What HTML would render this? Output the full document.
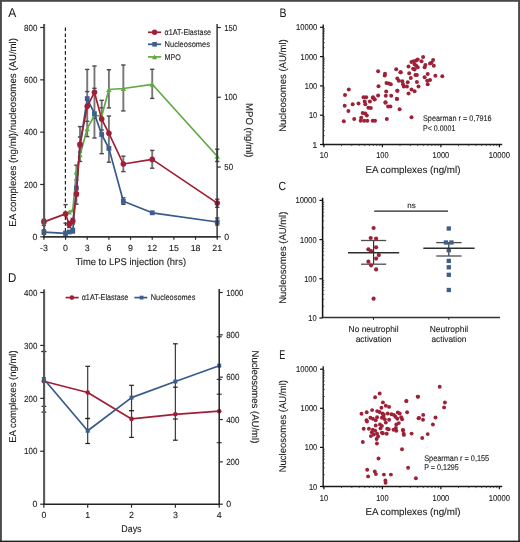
<!DOCTYPE html>
<html><head><meta charset="utf-8"><style>
html,body{margin:0;padding:0;background:#fff;overflow:hidden;width:520px;height:542px;}
svg{display:block;will-change:transform;}
text{font-family:'Liberation Sans',sans-serif;text-rendering:geometricPrecision;}
</style></head><body>
<svg width="520" height="542" viewBox="0 0 520 542">
<rect x="0" y="0" width="520" height="542" fill="#ffffff"/>
<text x="8.30" y="16.60" font-size="12.8" text-anchor="start" fill="#1a1a1a" stroke="#1a1a1a" stroke-width="0.05" textLength="8.0" lengthAdjust="spacingAndGlyphs" >A</text>
<text x="279.60" y="16.60" font-size="12.3" text-anchor="start" fill="#1a1a1a" stroke="#1a1a1a" stroke-width="0.05" textLength="7.0" lengthAdjust="spacingAndGlyphs" >B</text>
<text x="278.40" y="190.00" font-size="11.8" text-anchor="start" fill="#1a1a1a" stroke="#1a1a1a" stroke-width="0.05" textLength="7.6" lengthAdjust="spacingAndGlyphs" >C</text>
<text x="8.00" y="281.80" font-size="12.7" text-anchor="start" fill="#1a1a1a" stroke="#1a1a1a" stroke-width="0.05" textLength="8.3" lengthAdjust="spacingAndGlyphs" >D</text>
<text x="279.30" y="358.50" font-size="12.8" text-anchor="start" fill="#1a1a1a" stroke="#1a1a1a" stroke-width="0.05" textLength="6.0" lengthAdjust="spacingAndGlyphs" >E</text>
<line x1="65.40" y1="27.50" x2="65.40" y2="236.80" stroke="#222" stroke-width="1.2" stroke-dasharray="3.6 2.3"/>
<line x1="43.90" y1="219.30" x2="43.90" y2="225.40" stroke="#767676" stroke-width="1.9" />
<line x1="43.90" y1="230.00" x2="43.90" y2="234.30" stroke="#767676" stroke-width="1.9" />
<line x1="41.75" y1="219.30" x2="46.05" y2="219.30" stroke="#4a4a4a" stroke-width="1.4" />
<line x1="41.75" y1="225.40" x2="46.05" y2="225.40" stroke="#4a4a4a" stroke-width="1.4" />
<line x1="41.75" y1="230.00" x2="46.05" y2="230.00" stroke="#4a4a4a" stroke-width="1.4" />
<line x1="41.75" y1="234.30" x2="46.05" y2="234.30" stroke="#4a4a4a" stroke-width="1.4" />
<line x1="63.42" y1="204.60" x2="67.72" y2="204.60" stroke="#4a4a4a" stroke-width="1.4" />
<line x1="63.42" y1="223.20" x2="67.72" y2="223.20" stroke="#4a4a4a" stroke-width="1.4" />
<line x1="63.42" y1="231.50" x2="67.72" y2="231.50" stroke="#4a4a4a" stroke-width="1.4" />
<line x1="63.42" y1="235.00" x2="67.72" y2="235.00" stroke="#4a4a4a" stroke-width="1.4" />
<line x1="69.18" y1="221.50" x2="69.18" y2="227.50" stroke="#767676" stroke-width="1.9" />
<line x1="67.03" y1="221.50" x2="71.33" y2="221.50" stroke="#4a4a4a" stroke-width="1.4" />
<line x1="67.03" y1="227.50" x2="71.33" y2="227.50" stroke="#4a4a4a" stroke-width="1.4" />
<line x1="72.79" y1="218.40" x2="72.79" y2="224.00" stroke="#767676" stroke-width="1.9" />
<line x1="72.79" y1="228.50" x2="72.79" y2="233.00" stroke="#767676" stroke-width="1.9" />
<line x1="70.64" y1="218.40" x2="74.94" y2="218.40" stroke="#4a4a4a" stroke-width="1.4" />
<line x1="70.64" y1="224.00" x2="74.94" y2="224.00" stroke="#4a4a4a" stroke-width="1.4" />
<line x1="70.64" y1="228.50" x2="74.94" y2="228.50" stroke="#4a4a4a" stroke-width="1.4" />
<line x1="70.64" y1="233.00" x2="74.94" y2="233.00" stroke="#4a4a4a" stroke-width="1.4" />
<line x1="76.40" y1="165.20" x2="76.40" y2="204.20" stroke="#767676" stroke-width="1.9" />
<line x1="74.25" y1="165.20" x2="78.55" y2="165.20" stroke="#4a4a4a" stroke-width="1.4" />
<line x1="74.25" y1="204.20" x2="78.55" y2="204.20" stroke="#4a4a4a" stroke-width="1.4" />
<line x1="74.25" y1="180.00" x2="78.55" y2="180.00" stroke="#4a4a4a" stroke-width="1.4" />
<line x1="74.25" y1="196.00" x2="78.55" y2="196.00" stroke="#4a4a4a" stroke-width="1.4" />
<line x1="80.01" y1="126.60" x2="80.01" y2="161.50" stroke="#767676" stroke-width="1.9" />
<line x1="77.86" y1="126.60" x2="82.16" y2="126.60" stroke="#4a4a4a" stroke-width="1.4" />
<line x1="77.86" y1="161.50" x2="82.16" y2="161.50" stroke="#4a4a4a" stroke-width="1.4" />
<line x1="77.86" y1="137.00" x2="82.16" y2="137.00" stroke="#4a4a4a" stroke-width="1.4" />
<line x1="77.86" y1="152.00" x2="82.16" y2="152.00" stroke="#4a4a4a" stroke-width="1.4" />
<line x1="87.23" y1="69.40" x2="87.23" y2="136.60" stroke="#767676" stroke-width="1.9" />
<line x1="85.08" y1="69.40" x2="89.38" y2="69.40" stroke="#4a4a4a" stroke-width="1.4" />
<line x1="85.08" y1="136.60" x2="89.38" y2="136.60" stroke="#4a4a4a" stroke-width="1.4" />
<line x1="85.08" y1="91.60" x2="89.38" y2="91.60" stroke="#4a4a4a" stroke-width="1.4" />
<line x1="85.08" y1="121.30" x2="89.38" y2="121.30" stroke="#4a4a4a" stroke-width="1.4" />
<line x1="94.45" y1="66.00" x2="94.45" y2="138.00" stroke="#767676" stroke-width="1.9" />
<line x1="92.30" y1="66.00" x2="96.60" y2="66.00" stroke="#4a4a4a" stroke-width="1.4" />
<line x1="92.30" y1="138.00" x2="96.60" y2="138.00" stroke="#4a4a4a" stroke-width="1.4" />
<line x1="92.30" y1="88.30" x2="96.60" y2="88.30" stroke="#4a4a4a" stroke-width="1.4" />
<line x1="92.30" y1="118.30" x2="96.60" y2="118.30" stroke="#4a4a4a" stroke-width="1.4" />
<line x1="101.68" y1="100.30" x2="101.68" y2="153.70" stroke="#767676" stroke-width="1.9" />
<line x1="99.53" y1="100.30" x2="103.83" y2="100.30" stroke="#4a4a4a" stroke-width="1.4" />
<line x1="99.53" y1="153.70" x2="103.83" y2="153.70" stroke="#4a4a4a" stroke-width="1.4" />
<line x1="99.53" y1="107.80" x2="103.83" y2="107.80" stroke="#4a4a4a" stroke-width="1.4" />
<line x1="99.53" y1="130.00" x2="103.83" y2="130.00" stroke="#4a4a4a" stroke-width="1.4" />
<line x1="108.90" y1="69.70" x2="108.90" y2="107.90" stroke="#767676" stroke-width="1.9" />
<line x1="108.90" y1="116.00" x2="108.90" y2="162.20" stroke="#767676" stroke-width="1.9" />
<line x1="106.75" y1="69.70" x2="111.05" y2="69.70" stroke="#4a4a4a" stroke-width="1.4" />
<line x1="106.75" y1="107.90" x2="111.05" y2="107.90" stroke="#4a4a4a" stroke-width="1.4" />
<line x1="106.75" y1="116.00" x2="111.05" y2="116.00" stroke="#4a4a4a" stroke-width="1.4" />
<line x1="106.75" y1="162.20" x2="111.05" y2="162.20" stroke="#4a4a4a" stroke-width="1.4" />
<line x1="123.34" y1="65.00" x2="123.34" y2="110.90" stroke="#767676" stroke-width="1.9" />
<line x1="123.34" y1="156.20" x2="123.34" y2="171.60" stroke="#767676" stroke-width="1.9" />
<line x1="123.34" y1="197.80" x2="123.34" y2="204.30" stroke="#767676" stroke-width="1.9" />
<line x1="121.19" y1="65.00" x2="125.49" y2="65.00" stroke="#4a4a4a" stroke-width="1.4" />
<line x1="121.19" y1="110.90" x2="125.49" y2="110.90" stroke="#4a4a4a" stroke-width="1.4" />
<line x1="121.19" y1="156.20" x2="125.49" y2="156.20" stroke="#4a4a4a" stroke-width="1.4" />
<line x1="121.19" y1="171.60" x2="125.49" y2="171.60" stroke="#4a4a4a" stroke-width="1.4" />
<line x1="121.19" y1="197.80" x2="125.49" y2="197.80" stroke="#4a4a4a" stroke-width="1.4" />
<line x1="121.19" y1="204.30" x2="125.49" y2="204.30" stroke="#4a4a4a" stroke-width="1.4" />
<line x1="152.23" y1="69.30" x2="152.23" y2="98.40" stroke="#767676" stroke-width="1.9" />
<line x1="152.23" y1="150.40" x2="152.23" y2="168.20" stroke="#767676" stroke-width="1.9" />
<line x1="150.08" y1="69.30" x2="154.38" y2="69.30" stroke="#4a4a4a" stroke-width="1.4" />
<line x1="150.08" y1="98.40" x2="154.38" y2="98.40" stroke="#4a4a4a" stroke-width="1.4" />
<line x1="150.08" y1="150.40" x2="154.38" y2="150.40" stroke="#4a4a4a" stroke-width="1.4" />
<line x1="150.08" y1="168.20" x2="154.38" y2="168.20" stroke="#4a4a4a" stroke-width="1.4" />
<line x1="217.23" y1="149.20" x2="217.23" y2="161.50" stroke="#767676" stroke-width="1.9" />
<line x1="217.23" y1="199.20" x2="217.23" y2="207.30" stroke="#767676" stroke-width="1.9" />
<line x1="217.23" y1="218.00" x2="217.23" y2="225.00" stroke="#767676" stroke-width="1.9" />
<line x1="215.08" y1="149.20" x2="219.38" y2="149.20" stroke="#4a4a4a" stroke-width="1.4" />
<line x1="215.08" y1="161.50" x2="219.38" y2="161.50" stroke="#4a4a4a" stroke-width="1.4" />
<line x1="215.08" y1="199.20" x2="219.38" y2="199.20" stroke="#4a4a4a" stroke-width="1.4" />
<line x1="215.08" y1="207.30" x2="219.38" y2="207.30" stroke="#4a4a4a" stroke-width="1.4" />
<line x1="215.08" y1="218.00" x2="219.38" y2="218.00" stroke="#4a4a4a" stroke-width="1.4" />
<line x1="215.08" y1="225.00" x2="219.38" y2="225.00" stroke="#4a4a4a" stroke-width="1.4" />
<polyline points="69.18,212.00 72.79,210.00 76.40,172.00 80.01,154.90 87.23,128.70 94.45,115.50 101.68,116.20 108.90,89.50 123.34,88.50 152.23,84.30 217.23,156.20" fill="none" stroke="#62a844" stroke-width="1.7" stroke-linejoin="round"/>
<path d="M66.48 214.43 L71.88 214.43 L69.18 209.57 Z" fill="#62a844"/>
<path d="M70.09 212.43 L75.49 212.43 L72.79 207.57 Z" fill="#62a844"/>
<path d="M73.70 174.43 L79.10 174.43 L76.40 169.57 Z" fill="#62a844"/>
<path d="M77.31 157.33 L82.71 157.33 L80.01 152.47 Z" fill="#62a844"/>
<path d="M84.53 131.13 L89.93 131.13 L87.23 126.27 Z" fill="#62a844"/>
<path d="M91.75 117.93 L97.15 117.93 L94.45 113.07 Z" fill="#62a844"/>
<path d="M98.98 118.63 L104.38 118.63 L101.68 113.77 Z" fill="#62a844"/>
<path d="M106.20 91.93 L111.60 91.93 L108.90 87.07 Z" fill="#62a844"/>
<path d="M120.64 90.93 L126.04 90.93 L123.34 86.07 Z" fill="#62a844"/>
<path d="M149.53 86.73 L154.93 86.73 L152.23 81.87 Z" fill="#62a844"/>
<path d="M214.53 158.63 L219.93 158.63 L217.23 153.77 Z" fill="#62a844"/>
<polyline points="43.90,232.10 65.57,233.30 69.18,232.00 72.79,230.70 76.40,188.00 80.01,145.30 87.23,98.60 94.45,113.70 101.68,134.50 108.90,148.40 123.34,201.30 152.23,212.80 217.23,222.00" fill="none" stroke="#365a8a" stroke-width="1.7" stroke-linejoin="round"/>
<rect x="41.50" y="229.70" width="4.8" height="4.8" fill="#3d5f8f"/>
<rect x="63.17" y="230.90" width="4.8" height="4.8" fill="#3d5f8f"/>
<rect x="66.78" y="229.60" width="4.8" height="4.8" fill="#3d5f8f"/>
<rect x="70.39" y="228.30" width="4.8" height="4.8" fill="#3d5f8f"/>
<rect x="74.00" y="185.60" width="4.8" height="4.8" fill="#3d5f8f"/>
<rect x="77.61" y="142.90" width="4.8" height="4.8" fill="#3d5f8f"/>
<rect x="84.83" y="96.20" width="4.8" height="4.8" fill="#3d5f8f"/>
<rect x="92.05" y="111.30" width="4.8" height="4.8" fill="#3d5f8f"/>
<rect x="99.28" y="132.10" width="4.8" height="4.8" fill="#3d5f8f"/>
<rect x="106.50" y="146.00" width="4.8" height="4.8" fill="#3d5f8f"/>
<rect x="120.94" y="198.90" width="4.8" height="4.8" fill="#3d5f8f"/>
<rect x="149.83" y="210.40" width="4.8" height="4.8" fill="#3d5f8f"/>
<rect x="214.83" y="219.60" width="4.8" height="4.8" fill="#3d5f8f"/>
<polyline points="43.90,221.90 65.57,213.90 69.18,224.50 72.79,221.00 76.40,193.90 80.01,144.20 87.23,106.30 94.45,92.30 101.68,119.10 108.90,133.30 123.34,164.00 152.23,159.40 217.23,203.10" fill="none" stroke="#a21d36" stroke-width="1.7" stroke-linejoin="round"/>
<circle cx="43.90" cy="221.90" r="2.8" fill="#a21d36"/>
<circle cx="65.57" cy="213.90" r="2.8" fill="#a21d36"/>
<circle cx="69.18" cy="224.50" r="2.8" fill="#a21d36"/>
<circle cx="72.79" cy="221.00" r="2.8" fill="#a21d36"/>
<circle cx="76.40" cy="193.90" r="2.8" fill="#a21d36"/>
<circle cx="80.01" cy="144.20" r="2.8" fill="#a21d36"/>
<circle cx="87.23" cy="106.30" r="2.8" fill="#a21d36"/>
<circle cx="94.45" cy="92.30" r="2.8" fill="#a21d36"/>
<circle cx="101.68" cy="119.10" r="2.8" fill="#a21d36"/>
<circle cx="108.90" cy="133.30" r="2.8" fill="#a21d36"/>
<circle cx="123.34" cy="164.00" r="2.8" fill="#a21d36"/>
<circle cx="152.23" cy="159.40" r="2.8" fill="#a21d36"/>
<circle cx="217.23" cy="203.10" r="2.8" fill="#a21d36"/>
<line x1="44.10" y1="24.00" x2="44.10" y2="237.60" stroke="#585858" stroke-width="2.1" />
<line x1="43.00" y1="236.80" x2="218.00" y2="236.80" stroke="#333" stroke-width="1.7" />
<line x1="217.10" y1="24.00" x2="217.10" y2="237.60" stroke="#2a2a2a" stroke-width="1.4" />
<line x1="40.20" y1="236.80" x2="44.10" y2="236.80" stroke="#2b2b2b" stroke-width="1.2" />
<text x="37.40" y="239.95" font-size="8.8" text-anchor="end" fill="#1a1a1a" stroke="#1a1a1a" stroke-width="0.1" >0</text>
<line x1="40.20" y1="184.48" x2="44.10" y2="184.48" stroke="#2b2b2b" stroke-width="1.2" />
<text x="37.40" y="187.63" font-size="8.8" text-anchor="end" fill="#1a1a1a" stroke="#1a1a1a" stroke-width="0.1" textLength="13.3" lengthAdjust="spacingAndGlyphs" >200</text>
<line x1="40.20" y1="132.15" x2="44.10" y2="132.15" stroke="#2b2b2b" stroke-width="1.2" />
<text x="37.40" y="135.30" font-size="8.8" text-anchor="end" fill="#1a1a1a" stroke="#1a1a1a" stroke-width="0.1" textLength="13.3" lengthAdjust="spacingAndGlyphs" >400</text>
<line x1="40.20" y1="79.83" x2="44.10" y2="79.83" stroke="#2b2b2b" stroke-width="1.2" />
<text x="37.40" y="82.98" font-size="8.8" text-anchor="end" fill="#1a1a1a" stroke="#1a1a1a" stroke-width="0.1" textLength="13.3" lengthAdjust="spacingAndGlyphs" >600</text>
<line x1="40.20" y1="27.50" x2="44.10" y2="27.50" stroke="#2b2b2b" stroke-width="1.2" />
<text x="37.40" y="30.65" font-size="8.8" text-anchor="end" fill="#1a1a1a" stroke="#1a1a1a" stroke-width="0.1" textLength="13.3" lengthAdjust="spacingAndGlyphs" >800</text>
<line x1="217.10" y1="236.80" x2="220.80" y2="236.80" stroke="#2b2b2b" stroke-width="1.2" />
<text x="224.20" y="239.95" font-size="8.8" text-anchor="start" fill="#1a1a1a" stroke="#1a1a1a" stroke-width="0.1" >0</text>
<line x1="217.10" y1="167.03" x2="220.80" y2="167.03" stroke="#2b2b2b" stroke-width="1.2" />
<text x="224.20" y="170.18" font-size="8.8" text-anchor="start" fill="#1a1a1a" stroke="#1a1a1a" stroke-width="0.1" textLength="8.9" lengthAdjust="spacingAndGlyphs" >50</text>
<line x1="217.10" y1="97.27" x2="220.80" y2="97.27" stroke="#2b2b2b" stroke-width="1.2" />
<text x="224.20" y="100.42" font-size="8.8" text-anchor="start" fill="#1a1a1a" stroke="#1a1a1a" stroke-width="0.1" textLength="12.9" lengthAdjust="spacingAndGlyphs" >100</text>
<line x1="217.10" y1="27.50" x2="220.80" y2="27.50" stroke="#2b2b2b" stroke-width="1.2" />
<text x="224.20" y="30.65" font-size="8.8" text-anchor="start" fill="#1a1a1a" stroke="#1a1a1a" stroke-width="0.1" textLength="12.9" lengthAdjust="spacingAndGlyphs" >150</text>
<line x1="43.90" y1="236.80" x2="43.90" y2="239.80" stroke="#2b2b2b" stroke-width="1.2" />
<text x="43.90" y="250.80" font-size="8.8" text-anchor="middle" fill="#1a1a1a" stroke="#1a1a1a" stroke-width="0.1" >-3</text>
<line x1="65.57" y1="236.80" x2="65.57" y2="239.80" stroke="#2b2b2b" stroke-width="1.2" />
<text x="65.57" y="250.80" font-size="8.8" text-anchor="middle" fill="#1a1a1a" stroke="#1a1a1a" stroke-width="0.1" >0</text>
<line x1="87.23" y1="236.80" x2="87.23" y2="239.80" stroke="#2b2b2b" stroke-width="1.2" />
<text x="87.23" y="250.80" font-size="8.8" text-anchor="middle" fill="#1a1a1a" stroke="#1a1a1a" stroke-width="0.1" >3</text>
<line x1="108.90" y1="236.80" x2="108.90" y2="239.80" stroke="#2b2b2b" stroke-width="1.2" />
<text x="108.90" y="250.80" font-size="8.8" text-anchor="middle" fill="#1a1a1a" stroke="#1a1a1a" stroke-width="0.1" >6</text>
<line x1="130.56" y1="236.80" x2="130.56" y2="239.80" stroke="#2b2b2b" stroke-width="1.2" />
<text x="130.56" y="250.80" font-size="8.8" text-anchor="middle" fill="#1a1a1a" stroke="#1a1a1a" stroke-width="0.1" >9</text>
<line x1="152.23" y1="236.80" x2="152.23" y2="239.80" stroke="#2b2b2b" stroke-width="1.2" />
<text x="152.23" y="250.80" font-size="8.8" text-anchor="middle" fill="#1a1a1a" stroke="#1a1a1a" stroke-width="0.1" >12</text>
<line x1="173.90" y1="236.80" x2="173.90" y2="239.80" stroke="#2b2b2b" stroke-width="1.2" />
<text x="173.90" y="250.80" font-size="8.8" text-anchor="middle" fill="#1a1a1a" stroke="#1a1a1a" stroke-width="0.1" >15</text>
<line x1="195.56" y1="236.80" x2="195.56" y2="239.80" stroke="#2b2b2b" stroke-width="1.2" />
<text x="195.56" y="250.80" font-size="8.8" text-anchor="middle" fill="#1a1a1a" stroke="#1a1a1a" stroke-width="0.1" >18</text>
<line x1="217.23" y1="236.80" x2="217.23" y2="239.80" stroke="#2b2b2b" stroke-width="1.2" />
<text x="217.23" y="250.80" font-size="8.8" text-anchor="middle" fill="#1a1a1a" stroke="#1a1a1a" stroke-width="0.1" >21</text>
<text x="75.40" y="265.00" font-size="9.8" text-anchor="start" fill="#1a1a1a" stroke="#1a1a1a" stroke-width="0.1" textLength="110.7" lengthAdjust="spacingAndGlyphs" >Time to LPS injection (hrs)</text>
<text x="15.90" y="226.80" font-size="9.8" text-anchor="start" fill="#1a1a1a" stroke="#1a1a1a" stroke-width="0.1" textLength="188.8" lengthAdjust="spacingAndGlyphs" transform="rotate(-90 15.90 226.80)" >EA complexes (ng/ml)/nucleosomes (AU/ml)</text>
<text x="245.70" y="103.00" font-size="9.8" text-anchor="start" fill="#1a1a1a" stroke="#1a1a1a" stroke-width="0.1" textLength="54.5" lengthAdjust="spacingAndGlyphs" transform="rotate(90 245.70 103.00)" >MPO (ng/ml)</text>
<line x1="148.00" y1="32.30" x2="161.20" y2="32.30" stroke="#a21d36" stroke-width="1.7" />
<circle cx="154.60" cy="32.30" r="2.7" fill="#a21d36"/>
<text x="164.60" y="35.20" font-size="8.2" text-anchor="start" fill="#1a1a1a" stroke="#1a1a1a" stroke-width="0.1" textLength="46.4" lengthAdjust="spacingAndGlyphs" >α1AT-Elastase</text>
<line x1="148.00" y1="44.30" x2="161.20" y2="44.30" stroke="#365a8a" stroke-width="1.7" />
<rect x="152.30" y="42.00" width="4.6" height="4.6" fill="#3d5f8f"/>
<text x="164.60" y="47.20" font-size="8.2" text-anchor="start" fill="#1a1a1a" stroke="#1a1a1a" stroke-width="0.1" textLength="45.4" lengthAdjust="spacingAndGlyphs" >Nucleosomes</text>
<line x1="148.00" y1="56.90" x2="161.20" y2="56.90" stroke="#62a844" stroke-width="1.7" />
<path d="M152.00 59.24 L157.20 59.24 L154.60 54.56 Z" fill="#62a844"/>
<text x="164.60" y="59.80" font-size="8.2" text-anchor="start" fill="#1a1a1a" stroke="#1a1a1a" stroke-width="0.1" textLength="16.2" lengthAdjust="spacingAndGlyphs" >MPO</text>
<line x1="323.20" y1="24.50" x2="323.20" y2="145.30" stroke="#1a1a1a" stroke-width="1.4" />
<line x1="322.50" y1="144.50" x2="502.20" y2="144.50" stroke="#1a1a1a" stroke-width="1.4" />
<line x1="320.00" y1="27.30" x2="323.20" y2="27.30" stroke="#111" stroke-width="1.2" />
<text x="317.20" y="30.30" font-size="8.5" text-anchor="end" fill="#1a1a1a" stroke="#1a1a1a" stroke-width="0.1" textLength="21.2" lengthAdjust="spacingAndGlyphs" >10000</text>
<line x1="323.20" y1="47.78" x2="324.80" y2="47.78" stroke="#333" stroke-width="0.8" />
<line x1="323.20" y1="42.62" x2="324.80" y2="42.62" stroke="#333" stroke-width="0.8" />
<line x1="323.20" y1="38.96" x2="324.80" y2="38.96" stroke="#333" stroke-width="0.8" />
<line x1="323.20" y1="36.12" x2="324.80" y2="36.12" stroke="#333" stroke-width="0.8" />
<line x1="323.20" y1="33.80" x2="324.80" y2="33.80" stroke="#333" stroke-width="0.8" />
<line x1="323.20" y1="31.84" x2="324.80" y2="31.84" stroke="#333" stroke-width="0.8" />
<line x1="323.20" y1="30.14" x2="324.80" y2="30.14" stroke="#333" stroke-width="0.8" />
<line x1="323.20" y1="28.64" x2="324.80" y2="28.64" stroke="#333" stroke-width="0.8" />
<line x1="320.00" y1="56.60" x2="323.20" y2="56.60" stroke="#111" stroke-width="1.2" />
<text x="317.20" y="59.60" font-size="8.5" text-anchor="end" fill="#1a1a1a" stroke="#1a1a1a" stroke-width="0.1" textLength="16.6" lengthAdjust="spacingAndGlyphs" >1000</text>
<line x1="323.20" y1="77.08" x2="324.80" y2="77.08" stroke="#333" stroke-width="0.8" />
<line x1="323.20" y1="71.92" x2="324.80" y2="71.92" stroke="#333" stroke-width="0.8" />
<line x1="323.20" y1="68.26" x2="324.80" y2="68.26" stroke="#333" stroke-width="0.8" />
<line x1="323.20" y1="65.42" x2="324.80" y2="65.42" stroke="#333" stroke-width="0.8" />
<line x1="323.20" y1="63.10" x2="324.80" y2="63.10" stroke="#333" stroke-width="0.8" />
<line x1="323.20" y1="61.14" x2="324.80" y2="61.14" stroke="#333" stroke-width="0.8" />
<line x1="323.20" y1="59.44" x2="324.80" y2="59.44" stroke="#333" stroke-width="0.8" />
<line x1="323.20" y1="57.94" x2="324.80" y2="57.94" stroke="#333" stroke-width="0.8" />
<line x1="320.00" y1="85.90" x2="323.20" y2="85.90" stroke="#111" stroke-width="1.2" />
<text x="317.20" y="88.90" font-size="8.5" text-anchor="end" fill="#1a1a1a" stroke="#1a1a1a" stroke-width="0.1" textLength="12.4" lengthAdjust="spacingAndGlyphs" >100</text>
<line x1="323.20" y1="106.38" x2="324.80" y2="106.38" stroke="#333" stroke-width="0.8" />
<line x1="323.20" y1="101.22" x2="324.80" y2="101.22" stroke="#333" stroke-width="0.8" />
<line x1="323.20" y1="97.56" x2="324.80" y2="97.56" stroke="#333" stroke-width="0.8" />
<line x1="323.20" y1="94.72" x2="324.80" y2="94.72" stroke="#333" stroke-width="0.8" />
<line x1="323.20" y1="92.40" x2="324.80" y2="92.40" stroke="#333" stroke-width="0.8" />
<line x1="323.20" y1="90.44" x2="324.80" y2="90.44" stroke="#333" stroke-width="0.8" />
<line x1="323.20" y1="88.74" x2="324.80" y2="88.74" stroke="#333" stroke-width="0.8" />
<line x1="323.20" y1="87.24" x2="324.80" y2="87.24" stroke="#333" stroke-width="0.8" />
<line x1="320.00" y1="115.20" x2="323.20" y2="115.20" stroke="#111" stroke-width="1.2" />
<text x="317.20" y="118.20" font-size="8.5" text-anchor="end" fill="#1a1a1a" stroke="#1a1a1a" stroke-width="0.1" textLength="8.3" lengthAdjust="spacingAndGlyphs" >10</text>
<line x1="323.20" y1="135.68" x2="324.80" y2="135.68" stroke="#333" stroke-width="0.8" />
<line x1="323.20" y1="130.52" x2="324.80" y2="130.52" stroke="#333" stroke-width="0.8" />
<line x1="323.20" y1="126.86" x2="324.80" y2="126.86" stroke="#333" stroke-width="0.8" />
<line x1="323.20" y1="124.02" x2="324.80" y2="124.02" stroke="#333" stroke-width="0.8" />
<line x1="323.20" y1="121.70" x2="324.80" y2="121.70" stroke="#333" stroke-width="0.8" />
<line x1="323.20" y1="119.74" x2="324.80" y2="119.74" stroke="#333" stroke-width="0.8" />
<line x1="323.20" y1="118.04" x2="324.80" y2="118.04" stroke="#333" stroke-width="0.8" />
<line x1="323.20" y1="116.54" x2="324.80" y2="116.54" stroke="#333" stroke-width="0.8" />
<line x1="320.00" y1="144.50" x2="323.20" y2="144.50" stroke="#111" stroke-width="1.2" />
<text x="317.20" y="147.50" font-size="8.5" text-anchor="end" fill="#1a1a1a" stroke="#1a1a1a" stroke-width="0.1" >1</text>
<line x1="323.90" y1="144.50" x2="323.90" y2="147.20" stroke="#111" stroke-width="1.2" />
<text x="323.90" y="158.45" font-size="8.5" text-anchor="middle" fill="#1a1a1a" stroke="#1a1a1a" stroke-width="0.1" textLength="8.3" lengthAdjust="spacingAndGlyphs" >10</text>
<line x1="341.51" y1="144.50" x2="341.51" y2="146.10" stroke="#333" stroke-width="0.8" />
<line x1="351.81" y1="144.50" x2="351.81" y2="146.10" stroke="#333" stroke-width="0.8" />
<line x1="359.12" y1="144.50" x2="359.12" y2="146.10" stroke="#333" stroke-width="0.8" />
<line x1="364.79" y1="144.50" x2="364.79" y2="146.10" stroke="#333" stroke-width="0.8" />
<line x1="369.42" y1="144.50" x2="369.42" y2="146.10" stroke="#333" stroke-width="0.8" />
<line x1="373.34" y1="144.50" x2="373.34" y2="146.10" stroke="#333" stroke-width="0.8" />
<line x1="376.73" y1="144.50" x2="376.73" y2="146.10" stroke="#333" stroke-width="0.8" />
<line x1="379.72" y1="144.50" x2="379.72" y2="146.10" stroke="#333" stroke-width="0.8" />
<line x1="382.40" y1="144.50" x2="382.40" y2="147.20" stroke="#111" stroke-width="1.2" />
<text x="382.40" y="158.45" font-size="8.5" text-anchor="middle" fill="#1a1a1a" stroke="#1a1a1a" stroke-width="0.1" textLength="12.4" lengthAdjust="spacingAndGlyphs" >100</text>
<line x1="400.01" y1="144.50" x2="400.01" y2="146.10" stroke="#333" stroke-width="0.8" />
<line x1="410.31" y1="144.50" x2="410.31" y2="146.10" stroke="#333" stroke-width="0.8" />
<line x1="417.62" y1="144.50" x2="417.62" y2="146.10" stroke="#333" stroke-width="0.8" />
<line x1="423.29" y1="144.50" x2="423.29" y2="146.10" stroke="#333" stroke-width="0.8" />
<line x1="427.92" y1="144.50" x2="427.92" y2="146.10" stroke="#333" stroke-width="0.8" />
<line x1="431.84" y1="144.50" x2="431.84" y2="146.10" stroke="#333" stroke-width="0.8" />
<line x1="435.23" y1="144.50" x2="435.23" y2="146.10" stroke="#333" stroke-width="0.8" />
<line x1="438.22" y1="144.50" x2="438.22" y2="146.10" stroke="#333" stroke-width="0.8" />
<line x1="440.90" y1="144.50" x2="440.90" y2="147.20" stroke="#111" stroke-width="1.2" />
<text x="440.90" y="158.45" font-size="8.5" text-anchor="middle" fill="#1a1a1a" stroke="#1a1a1a" stroke-width="0.1" textLength="16.6" lengthAdjust="spacingAndGlyphs" >1000</text>
<line x1="458.51" y1="144.50" x2="458.51" y2="146.10" stroke="#333" stroke-width="0.8" />
<line x1="468.81" y1="144.50" x2="468.81" y2="146.10" stroke="#333" stroke-width="0.8" />
<line x1="476.12" y1="144.50" x2="476.12" y2="146.10" stroke="#333" stroke-width="0.8" />
<line x1="481.79" y1="144.50" x2="481.79" y2="146.10" stroke="#333" stroke-width="0.8" />
<line x1="486.42" y1="144.50" x2="486.42" y2="146.10" stroke="#333" stroke-width="0.8" />
<line x1="490.34" y1="144.50" x2="490.34" y2="146.10" stroke="#333" stroke-width="0.8" />
<line x1="493.73" y1="144.50" x2="493.73" y2="146.10" stroke="#333" stroke-width="0.8" />
<line x1="496.72" y1="144.50" x2="496.72" y2="146.10" stroke="#333" stroke-width="0.8" />
<line x1="499.40" y1="144.50" x2="499.40" y2="147.20" stroke="#111" stroke-width="1.2" />
<text x="499.40" y="158.45" font-size="8.5" text-anchor="middle" fill="#1a1a1a" stroke="#1a1a1a" stroke-width="0.1" textLength="21.2" lengthAdjust="spacingAndGlyphs" >10000</text>
<text x="365.40" y="172.90" font-size="9.8" text-anchor="start" fill="#1a1a1a" stroke="#1a1a1a" stroke-width="0.1" textLength="95" lengthAdjust="spacingAndGlyphs" >EA complexes (ng/ml)</text>
<text x="285.60" y="131.80" font-size="9.8" text-anchor="start" fill="#1a1a1a" stroke="#1a1a1a" stroke-width="0.1" textLength="92.5" lengthAdjust="spacingAndGlyphs" transform="rotate(-90 285.60 131.80)" >Nucleosomes (AU/ml)</text>
<text x="423.00" y="121.00" font-size="8.2" text-anchor="start" fill="#1a1a1a" stroke="#1a1a1a" stroke-width="0.1" textLength="68.6" lengthAdjust="spacingAndGlyphs" >Spearman r = 0,7916</text>
<text x="423.00" y="130.70" font-size="8.2" text-anchor="start" fill="#1a1a1a" stroke="#1a1a1a" stroke-width="0.1" textLength="32.3" lengthAdjust="spacingAndGlyphs" >P&lt; 0.0001</text>
<circle cx="348.80" cy="89.50" r="2.0" fill="#9d2137"/>
<circle cx="345.00" cy="95.10" r="2.0" fill="#9d2137"/>
<circle cx="344.70" cy="105.70" r="2.0" fill="#9d2137"/>
<circle cx="348.40" cy="111.10" r="2.0" fill="#9d2137"/>
<circle cx="343.80" cy="121.20" r="2.0" fill="#9d2137"/>
<circle cx="352.70" cy="104.20" r="2.0" fill="#9d2137"/>
<circle cx="358.50" cy="103.50" r="2.0" fill="#9d2137"/>
<circle cx="354.20" cy="118.90" r="2.0" fill="#9d2137"/>
<circle cx="363.50" cy="97.20" r="2.0" fill="#9d2137"/>
<circle cx="366.20" cy="97.20" r="2.0" fill="#9d2137"/>
<circle cx="364.70" cy="101.50" r="2.0" fill="#9d2137"/>
<circle cx="365.30" cy="104.20" r="2.0" fill="#9d2137"/>
<circle cx="369.90" cy="101.50" r="2.0" fill="#9d2137"/>
<circle cx="372.70" cy="97.70" r="2.0" fill="#9d2137"/>
<circle cx="374.50" cy="99.20" r="2.0" fill="#9d2137"/>
<circle cx="378.10" cy="95.40" r="2.0" fill="#9d2137"/>
<circle cx="378.50" cy="86.20" r="2.0" fill="#9d2137"/>
<circle cx="368.40" cy="107.70" r="2.0" fill="#9d2137"/>
<circle cx="370.80" cy="108.00" r="2.0" fill="#9d2137"/>
<circle cx="362.70" cy="113.10" r="2.0" fill="#9d2137"/>
<circle cx="365.30" cy="113.40" r="2.0" fill="#9d2137"/>
<circle cx="366.80" cy="115.40" r="2.0" fill="#9d2137"/>
<circle cx="361.20" cy="117.70" r="2.0" fill="#9d2137"/>
<circle cx="360.70" cy="120.80" r="2.0" fill="#9d2137"/>
<circle cx="364.20" cy="120.80" r="2.0" fill="#9d2137"/>
<circle cx="367.30" cy="120.80" r="2.0" fill="#9d2137"/>
<circle cx="372.70" cy="120.80" r="2.0" fill="#9d2137"/>
<circle cx="375.00" cy="120.80" r="2.0" fill="#9d2137"/>
<circle cx="386.80" cy="118.90" r="2.0" fill="#9d2137"/>
<circle cx="386.20" cy="91.50" r="2.0" fill="#9d2137"/>
<circle cx="385.80" cy="95.80" r="2.0" fill="#9d2137"/>
<circle cx="391.20" cy="95.80" r="2.0" fill="#9d2137"/>
<circle cx="385.50" cy="102.30" r="2.0" fill="#9d2137"/>
<circle cx="388.10" cy="106.50" r="2.0" fill="#9d2137"/>
<circle cx="390.40" cy="106.50" r="2.0" fill="#9d2137"/>
<circle cx="397.30" cy="90.80" r="2.0" fill="#9d2137"/>
<circle cx="397.00" cy="98.90" r="2.0" fill="#9d2137"/>
<circle cx="399.60" cy="109.20" r="2.0" fill="#9d2137"/>
<circle cx="378.10" cy="71.20" r="2.0" fill="#9d2137"/>
<circle cx="385.00" cy="73.80" r="2.0" fill="#9d2137"/>
<circle cx="384.70" cy="75.40" r="2.0" fill="#9d2137"/>
<circle cx="386.50" cy="83.10" r="2.0" fill="#9d2137"/>
<circle cx="388.80" cy="83.50" r="2.0" fill="#9d2137"/>
<circle cx="390.80" cy="84.20" r="2.0" fill="#9d2137"/>
<circle cx="397.30" cy="78.50" r="2.0" fill="#9d2137"/>
<circle cx="398.80" cy="80.80" r="2.0" fill="#9d2137"/>
<circle cx="403.00" cy="84.20" r="2.0" fill="#9d2137"/>
<circle cx="403.80" cy="86.50" r="2.0" fill="#9d2137"/>
<circle cx="402.30" cy="81.20" r="2.0" fill="#9d2137"/>
<circle cx="400.40" cy="72.30" r="2.0" fill="#9d2137"/>
<circle cx="396.20" cy="69.20" r="2.0" fill="#9d2137"/>
<circle cx="400.80" cy="72.20" r="2.0" fill="#9d2137"/>
<circle cx="407.70" cy="82.20" r="2.0" fill="#9d2137"/>
<circle cx="406.90" cy="86.50" r="2.0" fill="#9d2137"/>
<circle cx="397.40" cy="90.70" r="2.0" fill="#9d2137"/>
<circle cx="408.50" cy="93.50" r="2.0" fill="#9d2137"/>
<circle cx="411.50" cy="89.60" r="2.0" fill="#9d2137"/>
<circle cx="414.60" cy="91.20" r="2.0" fill="#9d2137"/>
<circle cx="396.90" cy="98.80" r="2.0" fill="#9d2137"/>
<circle cx="373.10" cy="97.30" r="2.0" fill="#9d2137"/>
<circle cx="374.60" cy="99.60" r="2.0" fill="#9d2137"/>
<circle cx="385.40" cy="102.70" r="2.0" fill="#9d2137"/>
<circle cx="409.20" cy="73.20" r="2.0" fill="#9d2137"/>
<circle cx="410.80" cy="78.10" r="2.0" fill="#9d2137"/>
<circle cx="408.50" cy="66.50" r="2.0" fill="#9d2137"/>
<circle cx="411.50" cy="61.90" r="2.0" fill="#9d2137"/>
<circle cx="413.80" cy="61.20" r="2.0" fill="#9d2137"/>
<circle cx="416.20" cy="60.40" r="2.0" fill="#9d2137"/>
<circle cx="417.70" cy="59.60" r="2.0" fill="#9d2137"/>
<circle cx="414.60" cy="64.20" r="2.0" fill="#9d2137"/>
<circle cx="416.20" cy="65.80" r="2.0" fill="#9d2137"/>
<circle cx="417.70" cy="67.30" r="2.0" fill="#9d2137"/>
<circle cx="413.10" cy="68.80" r="2.0" fill="#9d2137"/>
<circle cx="414.60" cy="69.60" r="2.0" fill="#9d2137"/>
<circle cx="423.10" cy="57.00" r="2.0" fill="#9d2137"/>
<circle cx="421.50" cy="61.20" r="2.0" fill="#9d2137"/>
<circle cx="425.40" cy="65.00" r="2.0" fill="#9d2137"/>
<circle cx="424.60" cy="67.30" r="2.0" fill="#9d2137"/>
<circle cx="433.10" cy="60.10" r="2.0" fill="#9d2137"/>
<circle cx="431.50" cy="62.70" r="2.0" fill="#9d2137"/>
<circle cx="430.00" cy="63.50" r="2.0" fill="#9d2137"/>
<circle cx="433.80" cy="65.80" r="2.0" fill="#9d2137"/>
<circle cx="415.40" cy="75.00" r="2.0" fill="#9d2137"/>
<circle cx="416.90" cy="75.00" r="2.0" fill="#9d2137"/>
<circle cx="427.70" cy="73.90" r="2.0" fill="#9d2137"/>
<circle cx="424.60" cy="77.30" r="2.0" fill="#9d2137"/>
<circle cx="427.20" cy="80.70" r="2.0" fill="#9d2137"/>
<circle cx="430.00" cy="80.10" r="2.0" fill="#9d2137"/>
<circle cx="427.70" cy="84.20" r="2.0" fill="#9d2137"/>
<circle cx="435.40" cy="75.80" r="2.0" fill="#9d2137"/>
<circle cx="442.30" cy="76.20" r="2.0" fill="#9d2137"/>
<circle cx="416.90" cy="81.90" r="2.0" fill="#9d2137"/>
<circle cx="418.50" cy="86.50" r="2.0" fill="#9d2137"/>
<circle cx="411.50" cy="117.20" r="2.0" fill="#9d2137"/>
<line x1="323.20" y1="366.20" x2="323.20" y2="487.30" stroke="#1a1a1a" stroke-width="1.4" />
<line x1="322.50" y1="486.50" x2="502.20" y2="486.50" stroke="#1a1a1a" stroke-width="1.4" />
<line x1="320.00" y1="369.20" x2="323.20" y2="369.20" stroke="#111" stroke-width="1.2" />
<text x="317.20" y="372.20" font-size="8.5" text-anchor="end" fill="#1a1a1a" stroke="#1a1a1a" stroke-width="0.1" textLength="21.2" lengthAdjust="spacingAndGlyphs" >10000</text>
<line x1="323.20" y1="396.53" x2="324.80" y2="396.53" stroke="#333" stroke-width="0.8" />
<line x1="323.20" y1="389.64" x2="324.80" y2="389.64" stroke="#333" stroke-width="0.8" />
<line x1="323.20" y1="384.76" x2="324.80" y2="384.76" stroke="#333" stroke-width="0.8" />
<line x1="323.20" y1="380.97" x2="324.80" y2="380.97" stroke="#333" stroke-width="0.8" />
<line x1="323.20" y1="377.87" x2="324.80" y2="377.87" stroke="#333" stroke-width="0.8" />
<line x1="323.20" y1="375.26" x2="324.80" y2="375.26" stroke="#333" stroke-width="0.8" />
<line x1="323.20" y1="372.99" x2="324.80" y2="372.99" stroke="#333" stroke-width="0.8" />
<line x1="323.20" y1="370.99" x2="324.80" y2="370.99" stroke="#333" stroke-width="0.8" />
<line x1="320.00" y1="408.30" x2="323.20" y2="408.30" stroke="#111" stroke-width="1.2" />
<text x="317.20" y="411.30" font-size="8.5" text-anchor="end" fill="#1a1a1a" stroke="#1a1a1a" stroke-width="0.1" textLength="16.6" lengthAdjust="spacingAndGlyphs" >1000</text>
<line x1="323.20" y1="435.63" x2="324.80" y2="435.63" stroke="#333" stroke-width="0.8" />
<line x1="323.20" y1="428.74" x2="324.80" y2="428.74" stroke="#333" stroke-width="0.8" />
<line x1="323.20" y1="423.86" x2="324.80" y2="423.86" stroke="#333" stroke-width="0.8" />
<line x1="323.20" y1="420.07" x2="324.80" y2="420.07" stroke="#333" stroke-width="0.8" />
<line x1="323.20" y1="416.97" x2="324.80" y2="416.97" stroke="#333" stroke-width="0.8" />
<line x1="323.20" y1="414.36" x2="324.80" y2="414.36" stroke="#333" stroke-width="0.8" />
<line x1="323.20" y1="412.09" x2="324.80" y2="412.09" stroke="#333" stroke-width="0.8" />
<line x1="323.20" y1="410.09" x2="324.80" y2="410.09" stroke="#333" stroke-width="0.8" />
<line x1="320.00" y1="447.40" x2="323.20" y2="447.40" stroke="#111" stroke-width="1.2" />
<text x="317.20" y="450.40" font-size="8.5" text-anchor="end" fill="#1a1a1a" stroke="#1a1a1a" stroke-width="0.1" textLength="12.4" lengthAdjust="spacingAndGlyphs" >100</text>
<line x1="323.20" y1="474.73" x2="324.80" y2="474.73" stroke="#333" stroke-width="0.8" />
<line x1="323.20" y1="467.84" x2="324.80" y2="467.84" stroke="#333" stroke-width="0.8" />
<line x1="323.20" y1="462.96" x2="324.80" y2="462.96" stroke="#333" stroke-width="0.8" />
<line x1="323.20" y1="459.17" x2="324.80" y2="459.17" stroke="#333" stroke-width="0.8" />
<line x1="323.20" y1="456.07" x2="324.80" y2="456.07" stroke="#333" stroke-width="0.8" />
<line x1="323.20" y1="453.46" x2="324.80" y2="453.46" stroke="#333" stroke-width="0.8" />
<line x1="323.20" y1="451.19" x2="324.80" y2="451.19" stroke="#333" stroke-width="0.8" />
<line x1="323.20" y1="449.19" x2="324.80" y2="449.19" stroke="#333" stroke-width="0.8" />
<line x1="320.00" y1="486.50" x2="323.20" y2="486.50" stroke="#111" stroke-width="1.2" />
<text x="317.20" y="489.50" font-size="8.5" text-anchor="end" fill="#1a1a1a" stroke="#1a1a1a" stroke-width="0.1" textLength="8.3" lengthAdjust="spacingAndGlyphs" >10</text>
<line x1="323.90" y1="486.50" x2="323.90" y2="489.20" stroke="#111" stroke-width="1.2" />
<text x="323.90" y="500.55" font-size="8.5" text-anchor="middle" fill="#1a1a1a" stroke="#1a1a1a" stroke-width="0.1" textLength="8.3" lengthAdjust="spacingAndGlyphs" >10</text>
<line x1="341.51" y1="486.50" x2="341.51" y2="488.10" stroke="#333" stroke-width="0.8" />
<line x1="351.81" y1="486.50" x2="351.81" y2="488.10" stroke="#333" stroke-width="0.8" />
<line x1="359.12" y1="486.50" x2="359.12" y2="488.10" stroke="#333" stroke-width="0.8" />
<line x1="364.79" y1="486.50" x2="364.79" y2="488.10" stroke="#333" stroke-width="0.8" />
<line x1="369.42" y1="486.50" x2="369.42" y2="488.10" stroke="#333" stroke-width="0.8" />
<line x1="373.34" y1="486.50" x2="373.34" y2="488.10" stroke="#333" stroke-width="0.8" />
<line x1="376.73" y1="486.50" x2="376.73" y2="488.10" stroke="#333" stroke-width="0.8" />
<line x1="379.72" y1="486.50" x2="379.72" y2="488.10" stroke="#333" stroke-width="0.8" />
<line x1="382.40" y1="486.50" x2="382.40" y2="489.20" stroke="#111" stroke-width="1.2" />
<text x="382.40" y="500.55" font-size="8.5" text-anchor="middle" fill="#1a1a1a" stroke="#1a1a1a" stroke-width="0.1" textLength="12.4" lengthAdjust="spacingAndGlyphs" >100</text>
<line x1="400.01" y1="486.50" x2="400.01" y2="488.10" stroke="#333" stroke-width="0.8" />
<line x1="410.31" y1="486.50" x2="410.31" y2="488.10" stroke="#333" stroke-width="0.8" />
<line x1="417.62" y1="486.50" x2="417.62" y2="488.10" stroke="#333" stroke-width="0.8" />
<line x1="423.29" y1="486.50" x2="423.29" y2="488.10" stroke="#333" stroke-width="0.8" />
<line x1="427.92" y1="486.50" x2="427.92" y2="488.10" stroke="#333" stroke-width="0.8" />
<line x1="431.84" y1="486.50" x2="431.84" y2="488.10" stroke="#333" stroke-width="0.8" />
<line x1="435.23" y1="486.50" x2="435.23" y2="488.10" stroke="#333" stroke-width="0.8" />
<line x1="438.22" y1="486.50" x2="438.22" y2="488.10" stroke="#333" stroke-width="0.8" />
<line x1="440.90" y1="486.50" x2="440.90" y2="489.20" stroke="#111" stroke-width="1.2" />
<text x="440.90" y="500.55" font-size="8.5" text-anchor="middle" fill="#1a1a1a" stroke="#1a1a1a" stroke-width="0.1" textLength="16.6" lengthAdjust="spacingAndGlyphs" >1000</text>
<line x1="458.51" y1="486.50" x2="458.51" y2="488.10" stroke="#333" stroke-width="0.8" />
<line x1="468.81" y1="486.50" x2="468.81" y2="488.10" stroke="#333" stroke-width="0.8" />
<line x1="476.12" y1="486.50" x2="476.12" y2="488.10" stroke="#333" stroke-width="0.8" />
<line x1="481.79" y1="486.50" x2="481.79" y2="488.10" stroke="#333" stroke-width="0.8" />
<line x1="486.42" y1="486.50" x2="486.42" y2="488.10" stroke="#333" stroke-width="0.8" />
<line x1="490.34" y1="486.50" x2="490.34" y2="488.10" stroke="#333" stroke-width="0.8" />
<line x1="493.73" y1="486.50" x2="493.73" y2="488.10" stroke="#333" stroke-width="0.8" />
<line x1="496.72" y1="486.50" x2="496.72" y2="488.10" stroke="#333" stroke-width="0.8" />
<line x1="499.40" y1="486.50" x2="499.40" y2="489.20" stroke="#111" stroke-width="1.2" />
<text x="499.40" y="500.55" font-size="8.5" text-anchor="middle" fill="#1a1a1a" stroke="#1a1a1a" stroke-width="0.1" textLength="21.2" lengthAdjust="spacingAndGlyphs" >10000</text>
<text x="365.40" y="514.60" font-size="9.8" text-anchor="start" fill="#1a1a1a" stroke="#1a1a1a" stroke-width="0.1" textLength="95" lengthAdjust="spacingAndGlyphs" >EA complexes (ng/ml)</text>
<text x="285.60" y="472.30" font-size="9.8" text-anchor="start" fill="#1a1a1a" stroke="#1a1a1a" stroke-width="0.1" textLength="92.3" lengthAdjust="spacingAndGlyphs" transform="rotate(-90 285.60 472.30)" >Nucleosomes (AU/ml)</text>
<text x="424.20" y="461.00" font-size="8.2" text-anchor="start" fill="#1a1a1a" stroke="#1a1a1a" stroke-width="0.1" textLength="65" lengthAdjust="spacingAndGlyphs" >Spearman r = 0,155</text>
<text x="424.20" y="470.20" font-size="8.2" text-anchor="start" fill="#1a1a1a" stroke="#1a1a1a" stroke-width="0.1" textLength="34.6" lengthAdjust="spacingAndGlyphs" >P = 0,1295</text>
<circle cx="379.70" cy="393.50" r="1.95" fill="#9d2137"/>
<circle cx="375.10" cy="397.20" r="1.95" fill="#9d2137"/>
<circle cx="406.20" cy="401.10" r="1.95" fill="#9d2137"/>
<circle cx="417.70" cy="396.60" r="1.95" fill="#9d2137"/>
<circle cx="439.70" cy="386.80" r="1.95" fill="#9d2137"/>
<circle cx="418.10" cy="396.80" r="1.95" fill="#9d2137"/>
<circle cx="406.50" cy="401.00" r="1.95" fill="#9d2137"/>
<circle cx="444.90" cy="402.50" r="1.95" fill="#9d2137"/>
<circle cx="444.10" cy="407.40" r="1.95" fill="#9d2137"/>
<circle cx="407.10" cy="412.30" r="1.95" fill="#9d2137"/>
<circle cx="423.20" cy="414.90" r="1.95" fill="#9d2137"/>
<circle cx="419.10" cy="418.00" r="1.95" fill="#9d2137"/>
<circle cx="423.00" cy="419.80" r="1.95" fill="#9d2137"/>
<circle cx="435.50" cy="417.50" r="1.95" fill="#9d2137"/>
<circle cx="432.90" cy="424.50" r="1.95" fill="#9d2137"/>
<circle cx="402.80" cy="430.00" r="1.95" fill="#9d2137"/>
<circle cx="403.90" cy="434.90" r="1.95" fill="#9d2137"/>
<circle cx="411.60" cy="433.60" r="1.95" fill="#9d2137"/>
<circle cx="427.70" cy="434.10" r="1.95" fill="#9d2137"/>
<circle cx="422.20" cy="438.00" r="1.95" fill="#9d2137"/>
<circle cx="418.50" cy="418.20" r="1.95" fill="#9d2137"/>
<circle cx="382.90" cy="402.40" r="1.95" fill="#9d2137"/>
<circle cx="385.80" cy="405.80" r="1.95" fill="#9d2137"/>
<circle cx="389.10" cy="406.90" r="1.95" fill="#9d2137"/>
<circle cx="381.40" cy="407.70" r="1.95" fill="#9d2137"/>
<circle cx="361.50" cy="413.80" r="1.95" fill="#9d2137"/>
<circle cx="366.70" cy="412.30" r="1.95" fill="#9d2137"/>
<circle cx="372.10" cy="410.10" r="1.95" fill="#9d2137"/>
<circle cx="377.10" cy="411.10" r="1.95" fill="#9d2137"/>
<circle cx="379.50" cy="412.00" r="1.95" fill="#9d2137"/>
<circle cx="382.40" cy="413.50" r="1.95" fill="#9d2137"/>
<circle cx="383.80" cy="414.40" r="1.95" fill="#9d2137"/>
<circle cx="387.70" cy="413.50" r="1.95" fill="#9d2137"/>
<circle cx="391.50" cy="414.20" r="1.95" fill="#9d2137"/>
<circle cx="393.90" cy="414.90" r="1.95" fill="#9d2137"/>
<circle cx="397.80" cy="412.50" r="1.95" fill="#9d2137"/>
<circle cx="399.70" cy="413.50" r="1.95" fill="#9d2137"/>
<circle cx="370.40" cy="417.80" r="1.95" fill="#9d2137"/>
<circle cx="372.80" cy="418.80" r="1.95" fill="#9d2137"/>
<circle cx="375.70" cy="420.20" r="1.95" fill="#9d2137"/>
<circle cx="377.10" cy="417.30" r="1.95" fill="#9d2137"/>
<circle cx="366.50" cy="420.20" r="1.95" fill="#9d2137"/>
<circle cx="367.00" cy="421.60" r="1.95" fill="#9d2137"/>
<circle cx="381.90" cy="417.80" r="1.95" fill="#9d2137"/>
<circle cx="383.40" cy="416.30" r="1.95" fill="#9d2137"/>
<circle cx="384.80" cy="419.20" r="1.95" fill="#9d2137"/>
<circle cx="389.10" cy="419.70" r="1.95" fill="#9d2137"/>
<circle cx="385.80" cy="422.60" r="1.95" fill="#9d2137"/>
<circle cx="395.40" cy="416.80" r="1.95" fill="#9d2137"/>
<circle cx="397.30" cy="418.80" r="1.95" fill="#9d2137"/>
<circle cx="401.20" cy="417.30" r="1.95" fill="#9d2137"/>
<circle cx="402.10" cy="419.20" r="1.95" fill="#9d2137"/>
<circle cx="398.80" cy="423.10" r="1.95" fill="#9d2137"/>
<circle cx="396.30" cy="424.50" r="1.95" fill="#9d2137"/>
<circle cx="375.70" cy="425.50" r="1.95" fill="#9d2137"/>
<circle cx="380.00" cy="424.50" r="1.95" fill="#9d2137"/>
<circle cx="381.90" cy="426.00" r="1.95" fill="#9d2137"/>
<circle cx="363.70" cy="428.80" r="1.95" fill="#9d2137"/>
<circle cx="368.90" cy="428.70" r="1.95" fill="#9d2137"/>
<circle cx="372.80" cy="429.80" r="1.95" fill="#9d2137"/>
<circle cx="375.20" cy="430.80" r="1.95" fill="#9d2137"/>
<circle cx="380.50" cy="428.40" r="1.95" fill="#9d2137"/>
<circle cx="381.90" cy="432.70" r="1.95" fill="#9d2137"/>
<circle cx="382.90" cy="433.20" r="1.95" fill="#9d2137"/>
<circle cx="387.20" cy="428.80" r="1.95" fill="#9d2137"/>
<circle cx="388.70" cy="429.30" r="1.95" fill="#9d2137"/>
<circle cx="386.70" cy="433.80" r="1.95" fill="#9d2137"/>
<circle cx="393.50" cy="429.80" r="1.95" fill="#9d2137"/>
<circle cx="395.90" cy="427.90" r="1.95" fill="#9d2137"/>
<circle cx="396.30" cy="430.80" r="1.95" fill="#9d2137"/>
<circle cx="371.80" cy="432.20" r="1.95" fill="#9d2137"/>
<circle cx="370.90" cy="436.10" r="1.95" fill="#9d2137"/>
<circle cx="373.80" cy="434.60" r="1.95" fill="#9d2137"/>
<circle cx="377.10" cy="433.70" r="1.95" fill="#9d2137"/>
<circle cx="378.10" cy="436.50" r="1.95" fill="#9d2137"/>
<circle cx="376.60" cy="439.00" r="1.95" fill="#9d2137"/>
<circle cx="403.10" cy="430.30" r="1.95" fill="#9d2137"/>
<circle cx="403.60" cy="433.70" r="1.95" fill="#9d2137"/>
<circle cx="362.80" cy="442.00" r="1.95" fill="#9d2137"/>
<circle cx="376.90" cy="443.50" r="1.95" fill="#9d2137"/>
<circle cx="402.00" cy="449.20" r="1.95" fill="#9d2137"/>
<circle cx="378.50" cy="458.50" r="1.95" fill="#9d2137"/>
<circle cx="408.10" cy="467.80" r="1.95" fill="#9d2137"/>
<circle cx="367.20" cy="469.80" r="1.95" fill="#9d2137"/>
<circle cx="368.10" cy="476.40" r="1.95" fill="#9d2137"/>
<circle cx="374.80" cy="471.50" r="1.95" fill="#9d2137"/>
<circle cx="375.90" cy="474.10" r="1.95" fill="#9d2137"/>
<circle cx="383.90" cy="474.60" r="1.95" fill="#9d2137"/>
<circle cx="390.90" cy="474.60" r="1.95" fill="#9d2137"/>
<circle cx="385.40" cy="480.50" r="1.95" fill="#9d2137"/>
<circle cx="385.60" cy="482.80" r="1.95" fill="#9d2137"/>
<circle cx="415.90" cy="478.20" r="1.95" fill="#9d2137"/>
<line x1="322.60" y1="197.80" x2="322.60" y2="318.00" stroke="#111" stroke-width="1.5" />
<line x1="321.90" y1="317.50" x2="500.00" y2="317.50" stroke="#333" stroke-width="1.4" />
<line x1="319.40" y1="200.40" x2="322.60" y2="200.40" stroke="#111" stroke-width="1.2" />
<text x="316.60" y="203.40" font-size="8.5" text-anchor="end" fill="#1a1a1a" stroke="#1a1a1a" stroke-width="0.1" textLength="21.2" lengthAdjust="spacingAndGlyphs" >10000</text>
<line x1="322.60" y1="227.80" x2="324.20" y2="227.80" stroke="#333" stroke-width="0.8" />
<line x1="322.60" y1="220.90" x2="324.20" y2="220.90" stroke="#333" stroke-width="0.8" />
<line x1="322.60" y1="216.00" x2="324.20" y2="216.00" stroke="#333" stroke-width="0.8" />
<line x1="322.60" y1="212.20" x2="324.20" y2="212.20" stroke="#333" stroke-width="0.8" />
<line x1="322.60" y1="209.10" x2="324.20" y2="209.10" stroke="#333" stroke-width="0.8" />
<line x1="322.60" y1="206.47" x2="324.20" y2="206.47" stroke="#333" stroke-width="0.8" />
<line x1="322.60" y1="204.20" x2="324.20" y2="204.20" stroke="#333" stroke-width="0.8" />
<line x1="322.60" y1="202.19" x2="324.20" y2="202.19" stroke="#333" stroke-width="0.8" />
<line x1="319.40" y1="239.60" x2="322.60" y2="239.60" stroke="#111" stroke-width="1.2" />
<text x="316.60" y="242.60" font-size="8.5" text-anchor="end" fill="#1a1a1a" stroke="#1a1a1a" stroke-width="0.1" textLength="16.6" lengthAdjust="spacingAndGlyphs" >1000</text>
<line x1="322.60" y1="267.00" x2="324.20" y2="267.00" stroke="#333" stroke-width="0.8" />
<line x1="322.60" y1="260.10" x2="324.20" y2="260.10" stroke="#333" stroke-width="0.8" />
<line x1="322.60" y1="255.20" x2="324.20" y2="255.20" stroke="#333" stroke-width="0.8" />
<line x1="322.60" y1="251.40" x2="324.20" y2="251.40" stroke="#333" stroke-width="0.8" />
<line x1="322.60" y1="248.30" x2="324.20" y2="248.30" stroke="#333" stroke-width="0.8" />
<line x1="322.60" y1="245.67" x2="324.20" y2="245.67" stroke="#333" stroke-width="0.8" />
<line x1="322.60" y1="243.40" x2="324.20" y2="243.40" stroke="#333" stroke-width="0.8" />
<line x1="322.60" y1="241.39" x2="324.20" y2="241.39" stroke="#333" stroke-width="0.8" />
<line x1="319.40" y1="278.80" x2="322.60" y2="278.80" stroke="#111" stroke-width="1.2" />
<text x="316.60" y="281.80" font-size="8.5" text-anchor="end" fill="#1a1a1a" stroke="#1a1a1a" stroke-width="0.1" textLength="12.4" lengthAdjust="spacingAndGlyphs" >100</text>
<line x1="322.60" y1="306.20" x2="324.20" y2="306.20" stroke="#333" stroke-width="0.8" />
<line x1="322.60" y1="299.30" x2="324.20" y2="299.30" stroke="#333" stroke-width="0.8" />
<line x1="322.60" y1="294.40" x2="324.20" y2="294.40" stroke="#333" stroke-width="0.8" />
<line x1="322.60" y1="290.60" x2="324.20" y2="290.60" stroke="#333" stroke-width="0.8" />
<line x1="322.60" y1="287.50" x2="324.20" y2="287.50" stroke="#333" stroke-width="0.8" />
<line x1="322.60" y1="284.87" x2="324.20" y2="284.87" stroke="#333" stroke-width="0.8" />
<line x1="322.60" y1="282.60" x2="324.20" y2="282.60" stroke="#333" stroke-width="0.8" />
<line x1="322.60" y1="280.59" x2="324.20" y2="280.59" stroke="#333" stroke-width="0.8" />
<line x1="319.40" y1="318.00" x2="322.60" y2="318.00" stroke="#111" stroke-width="1.2" />
<text x="316.60" y="321.00" font-size="8.5" text-anchor="end" fill="#1a1a1a" stroke="#1a1a1a" stroke-width="0.1" textLength="8.3" lengthAdjust="spacingAndGlyphs" >10</text>
<line x1="373.50" y1="317.50" x2="373.50" y2="319.80" stroke="#222" stroke-width="1.0" />
<line x1="448.80" y1="317.50" x2="448.80" y2="319.80" stroke="#222" stroke-width="1.0" />
<text x="373.60" y="331.80" font-size="8.6" text-anchor="middle" fill="#1a1a1a" stroke="#1a1a1a" stroke-width="0.1" textLength="50" lengthAdjust="spacingAndGlyphs" >No neutrophil</text>
<text x="373.60" y="341.80" font-size="8.6" text-anchor="middle" fill="#1a1a1a" stroke="#1a1a1a" stroke-width="0.1" textLength="35.9" lengthAdjust="spacingAndGlyphs" >activation</text>
<text x="448.90" y="331.70" font-size="8.6" text-anchor="middle" fill="#1a1a1a" stroke="#1a1a1a" stroke-width="0.1" textLength="38.5" lengthAdjust="spacingAndGlyphs" >Neutrophil</text>
<text x="448.90" y="341.80" font-size="8.6" text-anchor="middle" fill="#1a1a1a" stroke="#1a1a1a" stroke-width="0.1" textLength="35" lengthAdjust="spacingAndGlyphs" >activation</text>
<text x="285.60" y="303.80" font-size="9.8" text-anchor="start" fill="#1a1a1a" stroke="#1a1a1a" stroke-width="0.1" textLength="92.2" lengthAdjust="spacingAndGlyphs" transform="rotate(-90 285.60 303.80)" >Nucleosomes (AU/ml)</text>
<line x1="374.20" y1="211.10" x2="448.00" y2="211.10" stroke="#222" stroke-width="1.3" />
<text x="411.50" y="207.60" font-size="8" text-anchor="middle" fill="#1a1a1a" stroke="#1a1a1a" stroke-width="0.1" >ns</text>
<line x1="373.60" y1="240.50" x2="373.60" y2="264.20" stroke="#333" stroke-width="1.2" />
<line x1="361.00" y1="240.50" x2="386.20" y2="240.50" stroke="#4d4d4d" stroke-width="1.3" />
<line x1="361.00" y1="264.20" x2="386.20" y2="264.20" stroke="#4d4d4d" stroke-width="1.3" />
<circle cx="373.60" cy="228.00" r="2.1" fill="#9d2137"/>
<circle cx="370.70" cy="238.00" r="2.1" fill="#9d2137"/>
<circle cx="376.10" cy="238.60" r="2.1" fill="#9d2137"/>
<circle cx="376.10" cy="247.30" r="2.1" fill="#9d2137"/>
<circle cx="368.40" cy="249.30" r="2.1" fill="#9d2137"/>
<circle cx="371.10" cy="251.20" r="2.1" fill="#9d2137"/>
<circle cx="378.80" cy="255.10" r="2.1" fill="#9d2137"/>
<circle cx="376.10" cy="258.60" r="2.1" fill="#9d2137"/>
<circle cx="368.40" cy="261.70" r="2.1" fill="#9d2137"/>
<circle cx="371.10" cy="265.30" r="2.1" fill="#9d2137"/>
<circle cx="376.10" cy="269.40" r="2.1" fill="#9d2137"/>
<circle cx="373.60" cy="298.70" r="2.1" fill="#9d2137"/>
<line x1="348.00" y1="252.80" x2="399.20" y2="252.80" stroke="#2e2e2e" stroke-width="1.6" />
<line x1="448.80" y1="242.50" x2="448.80" y2="256.00" stroke="#333" stroke-width="1.2" />
<line x1="436.20" y1="242.60" x2="461.60" y2="242.60" stroke="#4d4d4d" stroke-width="1.3" />
<line x1="436.20" y1="256.00" x2="461.60" y2="256.00" stroke="#4d4d4d" stroke-width="1.3" />
<rect x="446.65" y="226.35" width="4.3" height="4.3" fill="#3d5f8f"/>
<rect x="443.75" y="240.35" width="4.3" height="4.3" fill="#3d5f8f"/>
<rect x="449.25" y="240.35" width="4.3" height="4.3" fill="#3d5f8f"/>
<rect x="446.65" y="248.05" width="4.3" height="4.3" fill="#3d5f8f"/>
<rect x="446.65" y="258.75" width="4.3" height="4.3" fill="#3d5f8f"/>
<rect x="446.65" y="265.15" width="4.3" height="4.3" fill="#3d5f8f"/>
<rect x="446.65" y="272.65" width="4.3" height="4.3" fill="#3d5f8f"/>
<rect x="446.65" y="287.85" width="4.3" height="4.3" fill="#3d5f8f"/>
<line x1="423.30" y1="248.20" x2="474.60" y2="248.20" stroke="#2e2e2e" stroke-width="1.6" />
<line x1="216.71" y1="336.80" x2="221.71" y2="336.80" stroke="#2a2a2a" stroke-width="1.1" />
<line x1="216.71" y1="394.20" x2="221.71" y2="394.20" stroke="#2a2a2a" stroke-width="1.1" />
<line x1="216.71" y1="379.40" x2="221.71" y2="379.40" stroke="#2a2a2a" stroke-width="1.1" />
<line x1="216.71" y1="442.70" x2="221.71" y2="442.70" stroke="#2a2a2a" stroke-width="1.1" />
<line x1="43.85" y1="351.50" x2="43.85" y2="412.10" stroke="#3a3a3a" stroke-width="1.2" />
<line x1="41.50" y1="351.50" x2="46.20" y2="351.50" stroke="#222" stroke-width="1.2" />
<line x1="41.50" y1="412.10" x2="46.20" y2="412.10" stroke="#222" stroke-width="1.2" />
<line x1="41.50" y1="351.50" x2="46.20" y2="351.50" stroke="#222" stroke-width="1.2" />
<line x1="41.50" y1="406.30" x2="46.20" y2="406.30" stroke="#222" stroke-width="1.2" />
<line x1="87.69" y1="366.30" x2="87.69" y2="443.50" stroke="#3a3a3a" stroke-width="1.2" />
<line x1="85.34" y1="366.30" x2="90.04" y2="366.30" stroke="#222" stroke-width="1.2" />
<line x1="85.34" y1="418.50" x2="90.04" y2="418.50" stroke="#222" stroke-width="1.2" />
<line x1="85.34" y1="418.50" x2="90.04" y2="418.50" stroke="#222" stroke-width="1.2" />
<line x1="85.34" y1="443.50" x2="90.04" y2="443.50" stroke="#222" stroke-width="1.2" />
<line x1="131.53" y1="385.30" x2="131.53" y2="437.40" stroke="#3a3a3a" stroke-width="1.2" />
<line x1="129.18" y1="385.30" x2="133.88" y2="385.30" stroke="#222" stroke-width="1.2" />
<line x1="129.18" y1="410.60" x2="133.88" y2="410.60" stroke="#222" stroke-width="1.2" />
<line x1="129.18" y1="410.60" x2="133.88" y2="410.60" stroke="#222" stroke-width="1.2" />
<line x1="129.18" y1="437.40" x2="133.88" y2="437.40" stroke="#222" stroke-width="1.2" />
<line x1="175.37" y1="343.80" x2="175.37" y2="440.20" stroke="#3a3a3a" stroke-width="1.2" />
<line x1="173.02" y1="343.80" x2="177.72" y2="343.80" stroke="#222" stroke-width="1.2" />
<line x1="173.02" y1="419.00" x2="177.72" y2="419.00" stroke="#222" stroke-width="1.2" />
<line x1="173.02" y1="387.20" x2="177.72" y2="387.20" stroke="#222" stroke-width="1.2" />
<line x1="173.02" y1="440.20" x2="177.72" y2="440.20" stroke="#222" stroke-width="1.2" />
<polyline points="43.85,381.30 87.69,392.50 131.53,418.90 175.37,414.30 219.21,411.20" fill="none" stroke="#a21d36" stroke-width="1.7" stroke-linejoin="round"/>
<circle cx="43.85" cy="381.30" r="2.3" fill="#a21d36"/>
<circle cx="87.69" cy="392.50" r="2.3" fill="#a21d36"/>
<circle cx="131.53" cy="418.90" r="2.3" fill="#a21d36"/>
<circle cx="175.37" cy="414.30" r="2.3" fill="#a21d36"/>
<circle cx="219.21" cy="411.20" r="2.3" fill="#a21d36"/>
<polyline points="43.85,379.00 87.69,430.80 131.53,397.60 175.37,381.50 219.21,365.70" fill="none" stroke="#365a8a" stroke-width="1.7" stroke-linejoin="round"/>
<rect x="41.85" y="377.00" width="4.0" height="4.0" fill="#3d5f8f"/>
<rect x="85.69" y="428.80" width="4.0" height="4.0" fill="#3d5f8f"/>
<rect x="129.53" y="395.60" width="4.0" height="4.0" fill="#3d5f8f"/>
<rect x="173.37" y="379.50" width="4.0" height="4.0" fill="#3d5f8f"/>
<rect x="217.21" y="363.70" width="4.0" height="4.0" fill="#3d5f8f"/>
<line x1="44.10" y1="289.40" x2="44.10" y2="505.00" stroke="#585858" stroke-width="2.1" />
<line x1="43.00" y1="504.20" x2="220.00" y2="504.20" stroke="#222" stroke-width="1.5" />
<line x1="219.20" y1="289.00" x2="219.20" y2="505.00" stroke="#222" stroke-width="1.5" />
<line x1="40.20" y1="504.20" x2="44.10" y2="504.20" stroke="#2b2b2b" stroke-width="1.2" />
<text x="37.40" y="507.35" font-size="8.8" text-anchor="end" fill="#1a1a1a" stroke="#1a1a1a" stroke-width="0.1" >0</text>
<line x1="40.20" y1="451.27" x2="44.10" y2="451.27" stroke="#2b2b2b" stroke-width="1.2" />
<text x="37.40" y="454.42" font-size="8.8" text-anchor="end" fill="#1a1a1a" stroke="#1a1a1a" stroke-width="0.1" textLength="13.3" lengthAdjust="spacingAndGlyphs" >100</text>
<line x1="40.20" y1="398.35" x2="44.10" y2="398.35" stroke="#2b2b2b" stroke-width="1.2" />
<text x="37.40" y="401.50" font-size="8.8" text-anchor="end" fill="#1a1a1a" stroke="#1a1a1a" stroke-width="0.1" textLength="13.3" lengthAdjust="spacingAndGlyphs" >200</text>
<line x1="40.20" y1="345.42" x2="44.10" y2="345.42" stroke="#2b2b2b" stroke-width="1.2" />
<text x="37.40" y="348.57" font-size="8.8" text-anchor="end" fill="#1a1a1a" stroke="#1a1a1a" stroke-width="0.1" textLength="13.3" lengthAdjust="spacingAndGlyphs" >300</text>
<line x1="40.20" y1="292.50" x2="44.10" y2="292.50" stroke="#2b2b2b" stroke-width="1.2" />
<text x="37.40" y="295.65" font-size="8.8" text-anchor="end" fill="#1a1a1a" stroke="#1a1a1a" stroke-width="0.1" textLength="13.3" lengthAdjust="spacingAndGlyphs" >400</text>
<line x1="219.20" y1="504.20" x2="222.80" y2="504.20" stroke="#2b2b2b" stroke-width="1.2" />
<text x="226.20" y="507.35" font-size="8.8" text-anchor="start" fill="#1a1a1a" stroke="#1a1a1a" stroke-width="0.1" >0</text>
<line x1="219.20" y1="461.86" x2="222.80" y2="461.86" stroke="#2b2b2b" stroke-width="1.2" />
<text x="226.20" y="465.01" font-size="8.8" text-anchor="start" fill="#1a1a1a" stroke="#1a1a1a" stroke-width="0.1" textLength="13.3" lengthAdjust="spacingAndGlyphs" >200</text>
<line x1="219.20" y1="419.52" x2="222.80" y2="419.52" stroke="#2b2b2b" stroke-width="1.2" />
<text x="226.20" y="422.67" font-size="8.8" text-anchor="start" fill="#1a1a1a" stroke="#1a1a1a" stroke-width="0.1" textLength="13.3" lengthAdjust="spacingAndGlyphs" >400</text>
<line x1="219.20" y1="377.18" x2="222.80" y2="377.18" stroke="#2b2b2b" stroke-width="1.2" />
<text x="226.20" y="380.33" font-size="8.8" text-anchor="start" fill="#1a1a1a" stroke="#1a1a1a" stroke-width="0.1" textLength="13.3" lengthAdjust="spacingAndGlyphs" >600</text>
<line x1="219.20" y1="334.84" x2="222.80" y2="334.84" stroke="#2b2b2b" stroke-width="1.2" />
<text x="226.20" y="337.99" font-size="8.8" text-anchor="start" fill="#1a1a1a" stroke="#1a1a1a" stroke-width="0.1" textLength="13.3" lengthAdjust="spacingAndGlyphs" >800</text>
<line x1="219.20" y1="292.50" x2="222.80" y2="292.50" stroke="#2b2b2b" stroke-width="1.2" />
<text x="226.20" y="295.65" font-size="8.8" text-anchor="start" fill="#1a1a1a" stroke="#1a1a1a" stroke-width="0.1" textLength="17.0" lengthAdjust="spacingAndGlyphs" >1000</text>
<line x1="43.85" y1="504.20" x2="43.85" y2="507.70" stroke="#2b2b2b" stroke-width="1.2" />
<text x="43.85" y="518.00" font-size="8.8" text-anchor="middle" fill="#1a1a1a" stroke="#1a1a1a" stroke-width="0.1" >0</text>
<line x1="87.69" y1="504.20" x2="87.69" y2="507.70" stroke="#2b2b2b" stroke-width="1.2" />
<text x="87.69" y="518.00" font-size="8.8" text-anchor="middle" fill="#1a1a1a" stroke="#1a1a1a" stroke-width="0.1" >1</text>
<line x1="131.53" y1="504.20" x2="131.53" y2="507.70" stroke="#2b2b2b" stroke-width="1.2" />
<text x="131.53" y="518.00" font-size="8.8" text-anchor="middle" fill="#1a1a1a" stroke="#1a1a1a" stroke-width="0.1" >2</text>
<line x1="175.37" y1="504.20" x2="175.37" y2="507.70" stroke="#2b2b2b" stroke-width="1.2" />
<text x="175.37" y="518.00" font-size="8.8" text-anchor="middle" fill="#1a1a1a" stroke="#1a1a1a" stroke-width="0.1" >3</text>
<line x1="219.21" y1="504.20" x2="219.21" y2="507.70" stroke="#2b2b2b" stroke-width="1.2" />
<text x="219.21" y="518.00" font-size="8.8" text-anchor="middle" fill="#1a1a1a" stroke="#1a1a1a" stroke-width="0.1" >4</text>
<text x="121.30" y="532.40" font-size="9.8" text-anchor="start" fill="#1a1a1a" stroke="#1a1a1a" stroke-width="0.1" textLength="20.2" lengthAdjust="spacingAndGlyphs" >Days</text>
<text x="16.00" y="442.80" font-size="9.8" text-anchor="start" fill="#1a1a1a" stroke="#1a1a1a" stroke-width="0.1" textLength="92.4" lengthAdjust="spacingAndGlyphs" transform="rotate(-90 16.00 442.80)" >EA complexes (ng/ml)</text>
<text x="251.80" y="350.50" font-size="9.8" text-anchor="start" fill="#1a1a1a" stroke="#1a1a1a" stroke-width="0.1" textLength="92.9" lengthAdjust="spacingAndGlyphs" transform="rotate(90 251.80 350.50)" >Nucleosomes (AU/ml)</text>
<line x1="65.60" y1="297.60" x2="78.70" y2="297.60" stroke="#a21d36" stroke-width="1.7" />
<circle cx="71.90" cy="297.60" r="2.3" fill="#a21d36"/>
<text x="81.70" y="300.40" font-size="8.2" text-anchor="start" fill="#1a1a1a" stroke="#1a1a1a" stroke-width="0.1" textLength="46.7" lengthAdjust="spacingAndGlyphs" >α1AT-Elastase</text>
<line x1="134.40" y1="297.60" x2="147.30" y2="297.60" stroke="#365a8a" stroke-width="1.7" />
<rect x="139.70" y="295.70" width="3.8" height="3.8" fill="#3d5f8f"/>
<text x="150.80" y="300.40" font-size="8.2" text-anchor="start" fill="#1a1a1a" stroke="#1a1a1a" stroke-width="0.1" textLength="44.6" lengthAdjust="spacingAndGlyphs" >Nucleosomes</text>
<rect x="0" y="0" width="520" height="1.8" fill="#4a4a4a"/>
<rect x="0" y="0" width="1.9" height="542" fill="#4a4a4a"/>
<rect x="518.1" y="0" width="1.9" height="542" fill="#4a4a4a"/>
<rect x="0" y="540.6" width="520" height="1.4" fill="#222"/>
</svg></body></html>
